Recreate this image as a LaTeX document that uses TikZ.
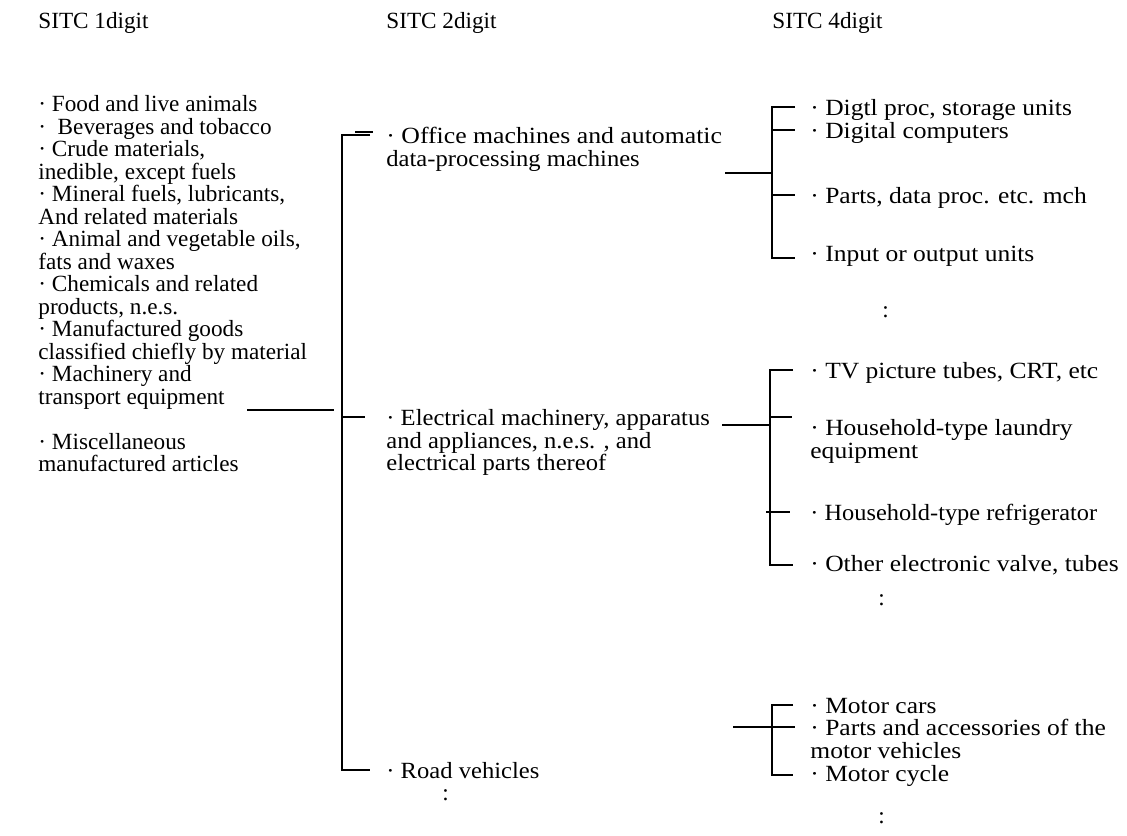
\documentclass[tikz,border=0pt]{standalone}
\usepackage{fontspec}
\setmainfont{Liberation Serif}
\usetikzlibrary{positioning,calc}

% 11.6pt text with a fixed line pitch
\newcommand{\txtfont}{\fontsize{11.6}{11.25}\selectfont\lineskiplimit=-20pt\relax}
\newcommand{\widefont}[1]{\txtfont\addfontfeature{FakeStretch=#1}}

\tikzset{
  txt/.style={anchor=north west, inner sep=0pt, align=left, font=\txtfont},
  txttwo/.style={txt, font=\widefont{1.06}},
  txtfour/.style={txt, font=\widefont{1.10}},
  brk/.style={line width=0.8pt},
}

\begin{document}
\begin{tikzpicture}[x=0.5pt,y=-0.5pt]
\useasboundingbox (0,0) rectangle (1127,835);

% headers
\node[txt] (head1) at (38,12) {\strut SITC 1digit};
\node[txt] (head2) at (386,12) {\strut SITC 2digit};
\node[txt] (head4) at (772,12) {\strut SITC 4digit};

% 1 digit
\node[txt] (onedig) at (38,95) {\strut· Food and live animals\\
·\ \ Beverages and tobacco\\
· Crude materials,\\
inedible, except fuels\\
· Mineral fuels, lubricants,\\
And related materials\\
· Animal and vegetable oils,\\
fats and waxes\\
· Chemicals and related\\
products, n.e.s.\\
· Manufactured goods\\
classified chiefly by material\\
· Machinery and\\
transport equipment\\
\strut\\
· Miscellaneous\\
manufactured articles};

% 2 digit
\node[txttwo] (office) at (386,127) {\strut{\addfontfeature{FakeStretch=1.11}· Office machines and automatic}\\data-processing machines};
\node[txttwo] (elec) at (386,409) {\strut· Electrical machinery, apparatus\\and appliances, n.e.s. , and\\electrical parts thereof};
\node[txttwo] (road) at (386,762) {\strut· Road vehicles};
\node[txt] (more2) at (442,784) {\strut:};

% 4 digit
\node[txtfour] (digtl) at (810,99) {\strut· Digtl proc, storage units};
\node[txtfour] (comp) at (810,122) {\strut· Digital computers};
\node[txtfour] (parts) at (810,187) {\strut· Parts, data proc. etc. mch};
\node[txtfour] (inout) at (810,245) {\strut· Input or output units};
\node[txt] (more4a) at (882,301) {\strut:};

\node[txtfour] (tv) at (810,362) {\strut· TV picture tubes, CRT, etc};
\node[txtfour] (laundry) at (810,419) {\strut· Household-type laundry\\equipment};
\node[txt, font=\widefont{1.05}] (fridge) at (810,504) {\strut· Household-type refrigerator};
\node[txtfour] (valve) at (810,555) {\strut· Other electronic valve, tubes};
\node[txt] (more4b) at (878,589) {\strut:};

\node[txtfour] (cars) at (810,697) {\strut· Motor cars};
\node[txtfour] (acc) at (810,719) {\strut· Parts and accessories of the\\motor vehicles};
\node[txtfour] (cycle) at (810,765) {\strut· Motor cycle};
\node[txt] (more4c) at (878,807) {\strut:};

% brackets
\coordinate (machend) at (247,410);
\coordinate (btwo) at (342,410);
\coordinate (btwotop) at (342,135);
\coordinate (btwobot) at (342,770);
\coordinate (offend) at (725,173);
\coordinate (bofftop) at (772,107);
\coordinate (boffbot) at (772,258);
\coordinate (elecend) at (722,425);
\coordinate (belectop) at (770,370);
\coordinate (belecbot) at (770,565);
\coordinate (roadend) at (733,727);
\coordinate (broadtop) at (772,705);
\coordinate (broadbot) at (772,775);

\draw[line width=1.4pt] (machend) -- ($(btwo)+(-8,0)$);

\draw[brk] ($(btwotop)+(28,0)$) -- (btwotop) -- (btwobot) -- ++(28,0);
\draw[brk] (355,132) -- (373,132);
\draw[brk] (342,417) -- (365,417);

\draw[brk] (offend) -- (offend -| bofftop);
\draw[brk] ($(bofftop)+(23,0)$) -- (bofftop) -- (boffbot) -- ++(23,0);
\draw[brk] (772,130) -- (795,130);
\draw[brk] (772,195) -- (795,195);

\draw[brk] (elecend) -- (elecend -| belectop);
\draw[brk] ($(belectop)+(23,0)$) -- (belectop) -- (belecbot) -- ++(23,0);
\draw[brk] (770,417) -- (792,417);
\draw[brk] (766,512) -- (790,512);

\draw[brk] (roadend) -- (795,727);
\draw[brk] ($(broadtop)+(21,0)$) -- (broadtop) -- (broadbot) -- ++(21,0);
\end{tikzpicture}
\end{document}
